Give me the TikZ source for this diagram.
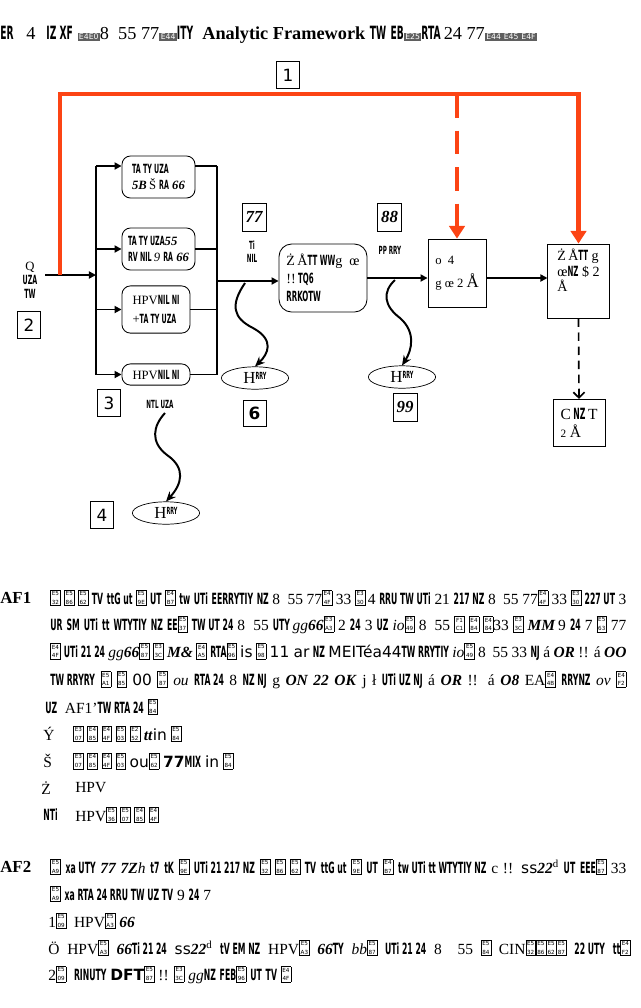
\documentclass[tikz,border=0pt]{standalone}
\usepackage{fontspec}
\setmainfont{Liberation Serif}
\setsansfont{DejaVu Sans}
\usepackage{graphicx}
\usetikzlibrary{arrows.meta, positioning, shapes.geometric, calc}
\definecolor{hlorange}{RGB}{252,68,20}
\definecolor{glyphgray}{RGB}{95,95,95}
% garbled glyph clusters as printed
\newcommand{\g}[1]{\scalebox{0.5}[1]{\sffamily\bfseries #1}}
\newcommand{\bi}[1]{\textbf{\textit{#1}}}
\newcommand{\gb}[2]{{\fboxsep=0.8pt\fboxrule=0.3pt\fbox{\fontsize{4}{5}\selectfont\sffamily\shortstack{#1\\#2}}}}
\newcommand{\db}[1]{{\fboxsep=1pt\colorbox{glyphgray}{\textcolor{white}{\fontsize{5.5}{5.5}\selectfont\sffamily #1}}}}
\newcommand{\jrow}[2]{\hbox to #1{#2}}
\tikzset{
  numbox/.style={draw, line width=0.5pt, minimum width=0.58cm, minimum height=0.66cm, inner sep=0pt, font=\sffamily\fontsize{12}{12}\selectfont},
  tagbox/.style={draw, line width=0.5pt, minimum width=0.6cm, minimum height=0.7cm, inner sep=0pt, font=\fontsize{12}{12}\selectfont\bfseries\itshape},
  rbox/.style={draw, line width=0.6pt, rounded corners=6pt, inner sep=2pt, align=left, font=\fontsize{9}{11}\selectfont},
  sbox/.style={draw, line width=0.6pt, inner sep=2pt, align=left, font=\fontsize{9}{12}\selectfont},
  hit/.style={ellipse, draw, line width=0.5pt, minimum width=1.68cm, minimum height=0.56cm, inner sep=0pt, font=\fontsize{12}{12}\selectfont},
  arr/.style={-{Triangle[length=5pt,width=5pt]}, line width=1.2pt},
  wig/.style={-{Stealth[length=7pt,width=6pt]}, line width=1.4pt},
  hl/.style={draw=hlorange, line width=3.5pt},
  hlarr/.style={hl, -{Triangle[length=9pt,width=11pt]}},
  txtrow/.style={anchor=west, inner sep=0pt, font=\fontsize{11}{12}\selectfont},
  smalltxt/.style={align=center, inner sep=0pt, font=\fontsize{8}{9}\selectfont},
}
\begin{document}
\begin{tikzpicture}[x=0.025cm, y=-0.025cm]
  \useasboundingbox (0,0) rectangle (640,1008);

  % title
  \node[txtrow, font=\fontsize{13}{14}\selectfont] (title) at (0,35) {\g{ER}\hspace{0.7em}4\hspace{0.6em}\g{IZ XF}\ \db{E4E0}8\ \ 55 77\db{E44}\g{ITY}\ \ \textbf{Analytic Framework}\ \g{TW} \g{EB}\db{E25}\g{RTA}\,24\ 77\db{E44}\db{E45}\db{E4F}};

  % labels
  \node[numbox] (n1) at (288,75) {1};
  \node[numbox] (n2) at (29,325) {2};
  \node[numbox] (n3) at (109,403) {3};
  \node[numbox] (n4) at (102,515) {4};
  \node[numbox, font=\sffamily\bfseries\fontsize{12}{12}\selectfont] (n6) at (254.5,413.5) {6};
  \node[tagbox] (n7) at (254,217) {77};
  \node[tagbox] (n8) at (389.5,217) {88};
  \node[tagbox] (n9) at (405,407) {99};

  % boxes
  \node[rbox, minimum width=1.825cm, minimum height=1.05cm] (rA) at (158.5,177) {\g{TA TY UZA}\\[1pt]\bi{5B}\,Š\ \g{RA}\ \bi{66}};
  \node[rbox, minimum width=1.825cm, minimum height=1.05cm] (rB) at (158.5,249) {\g{TA TY UZA}\bi{55}\\\g{RV NIL}\,\textit{9}\ \g{RA}\ \bi{66}};
  \node[rbox, minimum width=1.7cm, minimum height=1.18cm] (rC) at (156,309.5) {HPV\g{NIL NI}\\[2pt]+\g{TA TY UZA}};
  \node[rbox, minimum width=1.7cm, minimum height=0.53cm, inner sep=1pt] (rD) at (156,374.5) {HPV\g{NIL NI}};
  \node[rbox, rounded corners=9pt, minimum width=2.2cm, minimum height=1.7cm, font=\fontsize{10}{13}\selectfont] (rE) at (323,278) {Ż\,Å\g{TT WW}\textsc{g}\ \ \textsc{œ}\\!!\,\g{TQ6}\\\g{RRKOTW}};
  \node[sbox, minimum width=1.45cm, minimum height=1.7cm, font=\fontsize{9}{16}\selectfont] (rF) at (457,273) {\textsc{o}\ \ 4\\\textsc{g\ œ\ 2}\ {\fontsize{12}{12}\selectfont Å}};
  \node[sbox, minimum width=1.53cm, minimum height=1.85cm, font=\fontsize{10}{11}\selectfont] (rG) at (578.5,281) {Ż\,Å\g{TT}\ \textsc{g}\\\textsc{œ}\g{NZ}\ \$ \textsc{2}\\Å\\[4pt]};
  \node[sbox, minimum width=1.3cm, minimum height=1.18cm, font=\fontsize{11}{13}\selectfont] (rH) at (579,423) {C\,\g{NZ}\,T\\{\fontsize{8}{8}\selectfont 2} Å};

  % harms
  \node[hit] (e6) at (255,378) {H\raisebox{3pt}{\fontsize{7}{7}\selectfont\g{RRY}}};
  \node[hit] (e9) at (402,377) {H\raisebox{3pt}{\fontsize{7}{7}\selectfont\g{RRY}}};
  \node[hit] (e4) at (166,513) {H\raisebox{3pt}{\fontsize{7}{7}\selectfont\g{RRY}}};

  % small texts
  \node[smalltxt, font=\fontsize{9}{10}\selectfont] (lq) at (30,280) {Q\\\g{UZA}\\\g{TW}};
  \node[smalltxt] (l7) at (252,252) {\g{Ti}\\\g{NIL}};
  \node[smalltxt] (l8) at (390,250) {\g{PP RRY}};
  \node[smalltxt] (l3) at (160,404) {\g{NTL UZA}};

  % buses
  \coordinate (inL) at (45,275);
  \coordinate (hlS) at (60,275);
  \coordinate (hlTop) at (60,94);
  \coordinate (lbus) at (96,275);
  \coordinate (lbusT) at (96,166);
  \coordinate (lbusB) at (96,375);
  \coordinate (rbusT) at (217,166);
  \coordinate (rbusB) at (217,375);
  \coordinate (rbus) at (217,281);

  \draw[arr] (inL) -- (lbus);
  \draw[line width=1.2pt] (lbusT) -- (lbusB);
  \draw[arr] (lbusT) -- (lbusT -| rA.west);
  \draw[arr] (rB.west -| lbusT) -- (rB.west);
  \draw[arr] (rC.west -| lbusT) -- (rC.west);
  \draw[arr] (rD.west -| lbusT) -- (rD.west);
  \draw[line width=1.2pt] (rbusT) -- (rbusB);
  \draw[line width=1.2pt] (rbusT -| rA.east) -- (rbusT);
  \draw[line width=1.2pt] (rB.east) -- (rB.east -| rbusT);
  \draw[line width=1.2pt] (rC.east) -- (rC.east -| rbusT);
  \draw[line width=1.2pt] (rD.east) -- (rD.east -| rbusT);
  \draw[arr] (rbus) -- (rbus -| rE.west);
  \draw[arr] (rE.east) -- (rE.east -| rF.west);
  \draw[arr] (rF.east |- rE.east) -- (rG.west |- rE.east);
  \draw[line width=1.2pt, dash pattern=on 6pt off 4pt, -{Straight Barb[length=4pt,width=8pt]}] (rG.south) -- (rH.north);

  % highlighted links
  \draw[hlarr] (hlS) -- (hlTop) -| (rG.north);
  \draw[hlarr, dash pattern=on 17pt off 9pt] (hlTop -| rF.north) -- (rF.north);

  % wiggly arrows
  \coordinate (s6) at (245,283);
  \coordinate (s9) at (395,280);
  \coordinate (s4) at (165,413);
  \draw[wig] (s6) .. controls (230,305) and (233,318) .. (253,328) .. controls (275,340) and (268,354) .. (e6.north);
  \draw[wig] (s9) .. controls (382,292) and (384,306) .. (400,318) .. controls (416,332) and (412,350) .. (e9.north);
  \draw[wig] (s4) .. controls (153,426) and (150,442) .. (167,455) .. controls (186,468) and (182,484) .. (e4.north);

  % AF1 text
  \node[txtrow, font=\fontsize{12}{12}\selectfont\bfseries] (af1) at (0,598) {AF1};
  \node[txtrow] (a1) at (50,598) {\jrow{14.4cm}{\gb{E5}{32} \gb{E5}{86} \gb{E5}{62} \g{TV} \g{ttG ut} \gb{E5}{9E} \g{UT} \gb{E4}{B7} \g{tw} \g{UTi} \g{EERRYTIY} \g{NZ} 8 \ 55 77\gb{E4}{4F} 33 \gb{E3}{30}\,\textsc{4} \g{RRU TW UTi} 21 \g{217 NZ} 8 \ 55 77\gb{E4}{4F} 33 \gb{E3}{30} \g{227 UT} 3}};
  \node[txtrow] (a2) at (50,625) {\jrow{14.4cm}{\g{UR} \g{SM} \g{UTi} \g{tt} \g{WTYTIY} \g{NZ} \g{EE}\gb{E5}{37} \g{TW UT 24} 8 \ 55 \g{UTY}\,\textit{gg}\bi{66}\gb{E3}{A3} \textsc{2} \g{24} \textsc{3} \g{UZ} \textit{io}\gb{E5}{49} 8 \ 55 \gb{F1}{C1} \gb{E4}{84} \gb{E4}{84}33 \gb{E3}{3C} \bi{MM}\,\textsc{9} \g{24} \textsc{7} \gb{E5}{63} 77}};
  \node[txtrow] (a3) at (50,652) {\jrow{14.4cm}{\gb{E4}{4F} \g{UTi 21 24} \textit{gg}\bi{66}\gb{E5}{87} \gb{E3}{3C} \bi{M\&} \gb{E4}{A5} \g{RTA}\gb{E5}{96} \textsf{is} \gb{E5}{98} \textsf{11 ar} \g{NZ} \textsf{MEIT\'ea44}\g{TW RRYTIY} \textit{io}\gb{E5}{49} 8 \ 55 33 \g{NJ} \textsc{á} \bi{OR} !! \textsc{á} \bi{OO}}};
  \node[txtrow] (a4) at (50,680) {\jrow{14.4cm}{\g{TW RRYRY} \gb{E5}{A1} \gb{E5}{85} \textsf{00} \gb{E5}{87} \textit{ou} \g{RTA 24} 8 \g{NZ NJ} \textsc{g} \bi{ON 22 OK} \textsc{j} ł \g{UTi UZ NJ} \textsc{á} \bi{OR} !! \textsc{á} \bi{O8} EA\gb{E4}{4B} \g{RRYNZ} \textit{ov} \gb{E4}{F2}}};
  \node[txtrow] (a5) at (45,707) {\g{UZ}\ \ AF1'\g{TW RTA 24} \gb{E5}{84}};
  \node[txtrow] (b1) at (43,734) {Ý};
  \node[txtrow] (b1t) at (73,734) {\gb{E3}{07} \gb{E4}{85} \gb{E4}{4F} \gb{E5}{03} \gb{E2}{52} \bi{tt}\textsf{in} \gb{E5}{84}};
  \node[txtrow] (b2) at (43,761) {Š};
  \node[txtrow] (b2t) at (73,761) {\gb{E3}{07} \gb{E4}{85} \gb{E4}{4F} \gb{E5}{03} \textsf{ou}\gb{E5}{62} \textsf{\bfseries 77}\g{MIX} \textsf{in} \gb{E5}{84}};
  \node[txtrow] (b3) at (41,788) {Ż};
  \node[txtrow] (b3t) at (75,788) {HPV};
  \node[txtrow] (b4) at (43,815) {\g{NTi}};
  \node[txtrow] (b4t) at (75,815) {HPV\gb{E5}{36} \gb{E5}{07} \gb{E4}{85} \gb{E4}{4F}};

  % AF2 text
  \node[txtrow, font=\fontsize{12}{12}\selectfont\bfseries] (af2) at (0,867) {AF2};
  \node[txtrow] (c1) at (50,867) {\jrow{14.4cm}{\gb{E5}{A9} \g{xa UTY}\ \bi{77 7Z}\textit{h} \g{t7} \g{tK} \gb{E5}{9E} \g{UTi 21 217 NZ} \gb{E5}{32} \gb{E5}{86} \gb{E5}{62} \g{TV} \g{ttG ut} \gb{E5}{9E} \g{UT} \gb{E4}{B7} \g{tw UTi tt WTYTIY NZ} \textsc{c} !! \textsf{ss}\bi{22}\textsuperscript{d} \g{UT} \g{EEE}\gb{E5}{87} 33}};
  \node[txtrow] (c2) at (50,894) {\gb{E5}{A9} \g{xa RTA 24 RRU TW UZ TV} \textsc{9} \g{24} \textsc{7}};
  \node[txtrow] (c3) at (48,921) {1\gb{E5}{09}\ \ HPV\gb{E5}{A3} \bi{66}};
  \node[txtrow] (c4) at (48,948) {\jrow{14.55cm}{Ö HPV\gb{E5}{A3} \bi{66}\g{Ti 21 24} \textsf{ss}\bi{22}\textsuperscript{d} \g{tV EM NZ} HPV\gb{E5}{A3} \bi{66}\g{TY} \textit{bb}\gb{E5}{87} \g{UTi 21 24} 8 \ 55 \gb{E5}{84} CIN\gb{E5}{32}\gb{E5}{86}\gb{E5}{62}\gb{E5}{87} \g{22 UTY} \g{tt}\gb{E4}{F2}}};
  \node[txtrow] (c5) at (48,975) {2\gb{E5}{09}\ \ \g{RINUTY} \textsf{\bfseries DFT}\gb{E5}{87} !! \gb{E3}{3C} \textit{gg}\g{NZ} \g{FEB}\gb{E5}{96} \g{UT} \g{TV} \gb{E4}{4F}};
\end{tikzpicture}
\end{document}
